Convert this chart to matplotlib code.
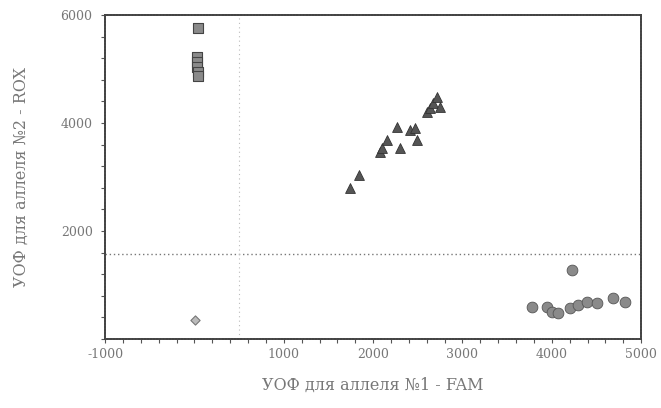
import matplotlib
matplotlib.use("Agg")
import matplotlib.pyplot as plt
from matplotlib.ticker import MultipleLocator

# Data
sq_x = [45, 30, 32, 34, 36, 38]
sq_y = [5760, 5220, 5130, 5040, 4945, 4870]

dia_x = [10]
dia_y = [350]

tri_x = [1745, 1845, 2080, 2100, 2160, 2270, 2300, 2415, 2470, 2495, 2605, 2640, 2675, 2715, 2750]
tri_y = [2800, 3040, 3460, 3540, 3690, 3925, 3540, 3870, 3905, 3690, 4205, 4280, 4370, 4480, 4300]

cir_x = [3780, 3950, 4005, 4070, 4230, 4205, 4295, 4395, 4510, 4690, 4820]
cir_y = [590, 590, 500, 480, 1280, 575, 630, 685, 665, 760, 685]

x_ticks = [-1000, 1000, 2000, 3000, 4000, 5000]
y_ticks = [2000, 4000, 6000]
h_line = 1580
v_line = 500

plt.rcParams['font.family'] = ['DejaVu Serif', 'Liberation Serif']
plt.rcParams['axes.unicode_minus'] = False

fig = plt.figure(figsize=(6.61, 4.08), dpi=100)
ax = fig.add_axes([0.159, 0.169, 0.811, 0.794])

ax.scatter(sq_x, sq_y, marker='s', s=60, facecolor='#8a8a8a', edgecolor='#444444',
           linewidth=0.8, zorder=3)
ax.scatter(dia_x, dia_y, marker='D', s=22, facecolor='#bbbbbb', edgecolor='#777777',
           linewidth=0.8, zorder=3)
ax.scatter(tri_x, tri_y, marker='^', s=50, facecolor='#555555', edgecolor='#333333',
           linewidth=0.6, zorder=3)
ax.scatter(cir_x, cir_y, marker='o', s=60, facecolor='#8a8a8a', edgecolor='#555555',
           linewidth=0.6, zorder=3)

ax.axhline(h_line, color='#777777', linestyle=(0, (1, 2)), linewidth=1.0, zorder=1)
ax.axvline(v_line, color='#bbbbbb', linestyle=(0, (1, 3)), linewidth=0.8, zorder=1)

ax.set_xlim(-1000, 5000)
ax.set_ylim(0, 6000)
ax.set_xticks(x_ticks)
ax.set_yticks(y_ticks)
ax.xaxis.set_minor_locator(MultipleLocator(200))
ax.yaxis.set_minor_locator(MultipleLocator(400))
ax.tick_params(which='both', direction='out', length=3, width=0.8, color='#555555',
               labelsize=9, labelcolor='#777777')
ax.tick_params(axis='y', which='major', pad=6)

for sp in ax.spines.values():
    sp.set_color('#444444')
    sp.set_linewidth(1.4)
    sp.set_linestyle((0, (1, 0.6)))

ax.set_xlabel('УОФ для аллеля №1 - FAM', fontsize=11.5, color='#777777', labelpad=11)
ax.set_ylabel('УОФ для аллеля №2 - ROX', fontsize=11.5, color='#777777', labelpad=22)

fig.savefig('out.png', dpi=100)
